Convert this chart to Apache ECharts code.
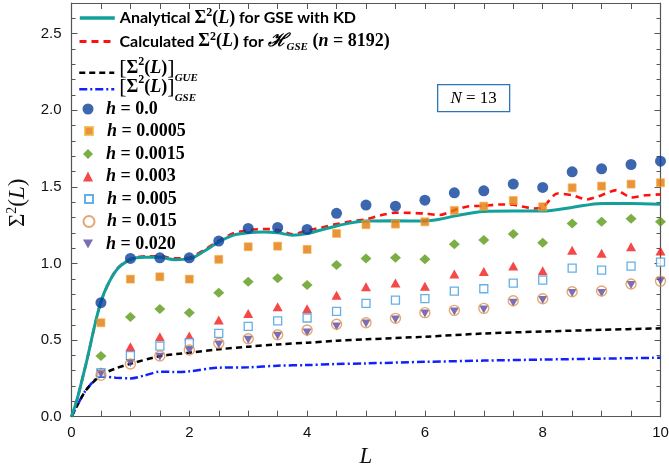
<!DOCTYPE html>
<html><head><meta charset="utf-8">
<script src="https://cdn.jsdelivr.net/npm/echarts@6/dist/echarts.min.js"></script>
<style>html,body{margin:0;padding:0;background:#fff}#c{width:669px;height:468px}</style>
</head><body><div id="c"></div>
<script>
// ---- data ----
const markerL = [0.5,1.0,1.5,2.0,2.5,3.0,3.5,4.0,4.5,5.0,5.5,6.0,6.5,7.0,7.5,8.0,8.5,9.0,9.5,10.0];
const h0000 = [0.744,1.033,1.037,1.037,1.146,1.229,1.235,1.222,1.327,1.381,1.374,1.413,1.461,1.474,1.518,1.496,1.598,1.618,1.646,1.668];
const h0005 = [0.613,0.898,0.913,0.898,1.027,1.109,1.113,1.092,1.196,1.253,1.257,1.272,1.346,1.374,1.411,1.370,1.494,1.505,1.518,1.527];
const h0015 = [0.396,0.650,0.703,0.679,0.809,0.881,0.903,0.859,0.990,1.033,1.037,1.027,1.125,1.153,1.192,1.135,1.261,1.272,1.292,1.272];
const h0030 = [0.294,0.457,0.522,0.526,0.631,0.674,0.718,0.705,0.792,0.848,0.872,0.851,0.931,0.948,0.983,0.952,1.087,1.066,1.109,1.081];
const h0050 = [0.287,0.398,0.461,0.483,0.544,0.590,0.626,0.644,0.688,0.740,0.761,0.770,0.820,0.835,0.872,0.892,0.970,0.957,0.983,1.009];
const h0150 = [0.270,0.344,0.396,0.435,0.479,0.509,0.535,0.566,0.603,0.613,0.642,0.679,0.694,0.707,0.757,0.770,0.815,0.820,0.866,0.885];
const h0200 = [0.280,0.350,0.392,0.432,0.472,0.503,0.528,0.550,0.588,0.609,0.635,0.674,0.687,0.700,0.744,0.762,0.808,0.808,0.859,0.885];

const tealL = [0,0.1,0.25,0.5,0.75,1.0,1.25,1.5,1.75,2.0,2.25,2.5,2.75,3.0,3.25,3.5,3.75,4.0,4.25,4.5,4.75,5.0,5.5,6.0,6.25,6.5,7.0,7.5,8.0,8.5,9.0,9.5,10];
const tealY = [0,0.12,0.35,0.75,0.95,1.025,1.04,1.04,1.025,1.03,1.08,1.14,1.185,1.20,1.205,1.20,1.185,1.195,1.22,1.245,1.265,1.277,1.279,1.277,1.288,1.309,1.34,1.343,1.342,1.366,1.392,1.392,1.387];
const redL = [0,0.1,0.25,0.5,0.75,1.0,1.25,1.5,1.75,2.0,2.25,2.5,2.75,3.0,3.25,3.5,3.75,4.0,4.25,4.5,4.75,5.0,5.25,5.5,5.75,6.0,6.25,6.5,6.75,7.0,7.25,7.5,7.85,8.0,8.25,8.5,8.75,9.0,9.25,9.5,9.75,10];
const redY = [0,0.12,0.35,0.75,0.955,1.03,1.047,1.047,1.033,1.038,1.088,1.148,1.197,1.218,1.225,1.22,1.19,1.215,1.235,1.257,1.275,1.288,1.315,1.331,1.33,1.326,1.316,1.348,1.374,1.376,1.385,1.383,1.359,1.366,1.457,1.446,1.418,1.446,1.479,1.431,1.445,1.451];
const gueL = [0,0.1,0.25,0.5,0.75,1.0,1.5,2.0,2.5,3.0,3.5,4.0,4.5,5.0,6.0,7.0,8.0,9.0,10];
const gueY = [0,0.075,0.175,0.27,0.315,0.345,0.395,0.418,0.44,0.457,0.472,0.483,0.496,0.505,0.522,0.543,0.556,0.567,0.577];
const gseL = [0,0.1,0.25,0.5,0.75,1.0,1.25,1.5,1.75,2.0,2.5,3.0,3.5,4.0,4.5,5.0,6.0,7.0,8.0,9.0,10];
const gseY = [0,0.075,0.175,0.262,0.255,0.25,0.27,0.294,0.292,0.296,0.32,0.322,0.333,0.337,0.344,0.348,0.358,0.366,0.373,0.379,0.385];

const xTicks = [0,2,4,6,8,10];
const yTicks = [0.0,0.5,1.0,1.5,2.0,2.5];

const pairs = (xs, ys) => xs.map((x, i) => [x, ys[i]]);

const SERIF = '"Liberation Serif","DejaVu Serif",serif';
const SANS = 'Lato,"Open Sans",sans-serif';
const baseRich = {
  t:   {fontFamily: SANS, fontWeight: 'bold', fontSize: 16, lineHeight: 22, color: '#000'},
  m:   {fontFamily: SERIF, fontWeight: 'bold', fontSize: 18, lineHeight: 22, color: '#000'},
  mi:  {fontFamily: SERIF, fontWeight: 'bold', fontStyle: 'italic', fontSize: 18, lineHeight: 22, color: '#000'},
  sup: {fontFamily: SERIF, fontWeight: 'bold', fontSize: 12, lineHeight: 6, verticalAlign: 'top', color: '#000'},
  subi:{fontFamily: SERIF, fontWeight: 'bold', fontStyle: 'italic', fontSize: 11, lineHeight: 12, verticalAlign: 'bottom', color: '#000'},
  hi:  {fontFamily: SERIF, fontWeight: 'bold', fontStyle: 'italic', fontSize: 18, lineHeight: 20, color: '#000'},
  hm:  {fontFamily: SERIF, fontWeight: 'bold', fontSize: 18, lineHeight: 20, color: '#000'}
};
// all tokens share one 30px line; padding shifts each token (shift = pad/2)
function bracketRich(mainPadB, supPadB, subPadT) {
  const LH = 30;
  const mainPad = [0, 0, mainPadB, 0];
  return Object.assign({}, baseRich, {
    bm:  {fontFamily: SERIF, fontWeight: 'bold', fontSize: 18, lineHeight: LH, padding: mainPad, color: '#000'},
    bmi: {fontFamily: SERIF, fontWeight: 'bold', fontStyle: 'italic', fontSize: 18, lineHeight: LH, padding: mainPad, color: '#000'},
    bb:  {fontFamily: SERIF, fontSize: 22, lineHeight: LH, padding: mainPad, color: '#000'},
    bsup:{fontFamily: SERIF, fontWeight: 'bold', fontSize: 12, lineHeight: LH, padding: [0, 0, supPadB, 0], color: '#000'},
    bsub:{fontFamily: SERIF, fontWeight: 'bold', fontStyle: 'italic', fontSize: 11, lineHeight: LH, padding: [subPadT, 0, 0, 0], color: '#000'}
  });
}

const names = {
  teal: 'Analytical', red: 'Calculated', gue: 'GUE', gse: 'GSE',
  a: 'h0.0', b: 'h0.0005', c: 'h0.0015', d: 'h0.003', e: 'h0.005', f: 'h0.015', g: 'h0.020'
};
const labels = {};
labels[names.teal] = '{t|Analytical }{m|Σ}{sup|2}{m|(}{mi|L}{m|)}{t| for GSE with KD}';
labels[names.red] = '{t|Calculated }{m|Σ}{sup|2}{m|(}{mi|L}{m|)}{t| for }{mi|ℋ}{subi|GSE}{m| (}{mi|n}{m| = 8192)}';
labels[names.gue] = '{bb|[}{bm|Σ}{bsup|2}{bm|(}{bmi|L}{bm|)}{bb|]}{bsub|GUE}';
labels[names.gse] = '{bb|[}{bm|Σ}{bsup|2}{bm|(}{bmi|L}{bm|)}{bb|]}{bsub|GSE}';
labels[names.a] = '{hi|h}{hm| = 0.0}';
labels[names.b] = '{hi|h}{hm| = 0.0005}';
labels[names.c] = '{hi|h}{hm| = 0.0015}';
labels[names.d] = '{hi|h}{hm| = 0.003}';
labels[names.e] = '{hi|h}{hm| = 0.005}';
labels[names.f] = '{hi|h}{hm| = 0.015}';
labels[names.g] = '{hi|h}{hm| = 0.020}';

function lineLegend(name, top, lw, r) {
  return {left: 78, top: top, padding: 0, itemWidth: 35, itemHeight: 12, selectedMode: false,
    data: [{name: name, itemStyle: {opacity: 0}, lineStyle: {width: lw}}],
    formatter: n => labels[n], textStyle: {rich: r || baseRich}};
}
function markLegend(name, center, size, icon) {
  const r = Object.assign({}, baseRich);
  r.hi = Object.assign({}, baseRich.hi, {padding: [0, 0, 0, 13 - size / 2]});
  const item = {name: name};
  if (icon) item.icon = icon;
  return {left: 88 - size / 2, top: center - 10, padding: 0, itemWidth: size, itemHeight: size, selectedMode: false,
    data: [item], formatter: n => labels[n], textStyle: {rich: r}};
}

const frameColor = '#555';
function axisCommon(extra) {
  return Object.assign({
    type: 'value',
    axisLine: {show: true, onZero: false, lineStyle: {color: frameColor, width: 1.2}},
    axisTick: {show: true, inside: true, length: 6, lineStyle: {color: frameColor}},
    splitLine: {show: false},
    minorSplitLine: {show: false}
  }, extra);
}
const labelStyle = {fontFamily: '"Liberation Sans",Arial,sans-serif', fontSize: 15, color: '#111'};

const option = {
  animation: false,
  backgroundColor: '#fff',
  grid: {left: 71.5, right: 8.5, top: 3, bottom: 51.3, containLabel: false, outerBoundsMode: 'none'},
  xAxis: [
    axisCommon({min: 0, max: 10, interval: 2, position: 'bottom',
      minorTick: {show: true, splitNumber: 4, length: 6, lineStyle: {color: frameColor}},
      axisLabel: Object.assign({margin: 9, formatter: v => xTicks.indexOf(v) >= 0 ? String(v) : ''}, labelStyle),
      name: '{i|L}', nameLocation: 'middle', nameGap: 26,
      nameTextStyle: {rich: {i: {fontFamily: SERIF, fontStyle: 'italic', fontSize: 23, color: '#111'}}}}),
    axisCommon({min: 0, max: 10, interval: 2, position: 'top',
      minorTick: {show: true, splitNumber: 4, length: 6, lineStyle: {color: frameColor}},
      axisLabel: {show: false}})
  ],
  yAxis: [
    axisCommon({min: 0, max: 2.7, interval: 0.5, position: 'left',
      minorTick: {show: true, splitNumber: 5, length: 4, lineStyle: {color: frameColor}},
      axisLabel: Object.assign({margin: 10, showMaxLabel: false,
        formatter: v => yTicks.some(t => Math.abs(t - v) < 1e-6) ? v.toFixed(1) : ''}, labelStyle),
      name: '{m|Σ}{s|2}{m|(}{i|L}{m|)}', nameLocation: 'middle', nameGap: 40, nameRotate: 90,
      nameTextStyle: {padding: [0, 0, 0, 14], rich: {
        m: {fontFamily: SERIF, fontSize: 23, lineHeight: 26, color: '#111'},
        i: {fontFamily: SERIF, fontStyle: 'italic', fontSize: 23, lineHeight: 26, color: '#111'},
        s: {fontFamily: SERIF, fontSize: 14, lineHeight: 8, verticalAlign: 'top', color: '#111'}}}}),
    axisCommon({min: 0, max: 2.7, interval: 0.5, position: 'right',
      minorTick: {show: true, splitNumber: 5, length: 4, lineStyle: {color: frameColor}},
      axisLabel: {show: false}})
  ],
  legend: [
    lineLegend(names.teal, 7, 3.6),
    lineLegend(names.red, 30.5, 3),
    lineLegend(names.gue, 55.7, 2.5, bracketRich(8, 22, 10)),
    lineLegend(names.gse, 74.3, 2.5, bracketRich(4, 18, 18)),
    markLegend(names.a, 110, 11),
    markLegend(names.b, 132, 8),
    markLegend(names.c, 155, 10),
    markLegend(names.d, 177.5, 10),
    markLegend(names.e, 200, 8),
    markLegend(names.f, 222.5, 11),
    markLegend(names.g, 245, 10, 'path://M0,0L10,0L5,9Z')
  ],
  graphic: [{
    type: 'group', left: 437, top: 84,
    children: [
      {type: 'rect', shape: {x: 0, y: 0, width: 72, height: 27},
       style: {fill: '#fff', stroke: '#2e75b6', lineWidth: 1.3}},
      {type: 'text', x: 36, y: 14,
       style: {text: '{i|N}{n| = 13}', align: 'center', verticalAlign: 'middle',
         rich: {i: {fontFamily: SERIF, fontStyle: 'italic', fontSize: 17, color: '#111'},
                n: {fontFamily: SERIF, fontSize: 17, color: '#111'}}}}
    ]
  }],
  series: [
    {name: names.gse, type: 'line', data: pairs(gseL, gseY), symbol: 'none', smooth: 0.3, z: 3,
     lineStyle: {color: '#1020ff', width: 2.5, type: [8, 3, 2, 3]}, itemStyle: {color: '#1020ff'}},
    {name: names.gue, type: 'line', data: pairs(gueL, gueY), symbol: 'none', smooth: 0.3, z: 3,
     lineStyle: {color: '#000', width: 2.5, type: [6, 4]}, itemStyle: {color: '#000'}},
    {name: names.teal, type: 'line', data: pairs(tealL, tealY), symbol: 'none', smooth: 0.3, z: 4,
     lineStyle: {color: '#13a09b', width: 3}, itemStyle: {color: '#13a09b'}},
    {name: names.red, type: 'line', data: pairs(redL, redY), symbol: 'none', smooth: 0.25, z: 3,
     lineStyle: {color: '#ff1010', width: 2.6, type: [7, 5]}, itemStyle: {color: '#ff1010'}},
    {name: names.a, type: 'scatter', data: pairs(markerL, h0000), symbol: 'circle', symbolSize: 11, z: 5,
     itemStyle: {color: '#0b419a'}},
    {name: names.b, type: 'scatter', data: pairs(markerL, h0005), symbol: 'rect', symbolSize: 8, z: 5,
     itemStyle: {color: '#e3780c', borderColor: '#f2b640', borderWidth: 0.8}},
    {name: names.c, type: 'scatter', data: pairs(markerL, h0015), symbol: 'diamond', symbolSize: [11, 10], z: 5,
     itemStyle: {color: '#5b9a18'}},
    {name: names.d, type: 'scatter', data: pairs(markerL, h0030), symbol: 'triangle', symbolSize: [10, 9], z: 5,
     itemStyle: {color: '#f21a1a'}},
    {name: names.e, type: 'scatter', data: pairs(markerL, h0050), symbol: 'rect', symbolSize: 8, z: 5,
     itemStyle: {color: '#ffffff', borderColor: '#3d9be0', borderWidth: 1.3}},
    {name: names.f, type: 'scatter', data: pairs(markerL, h0150), symbol: 'circle', symbolSize: 10, z: 7,
     itemStyle: {color: 'rgba(255,255,255,0)', borderColor: '#e0904e', borderWidth: 1.4}},
    {name: names.g, type: 'scatter', data: pairs(markerL, h0200), symbol: 'triangle', symbolRotate: 180, symbolSize: [9, 8], z: 6,
     itemStyle: {color: '#5a4a9e'}}
  ]
};
const chart = echarts.init(document.getElementById('c'));
chart.setOption(option);
</script>
</body></html>
